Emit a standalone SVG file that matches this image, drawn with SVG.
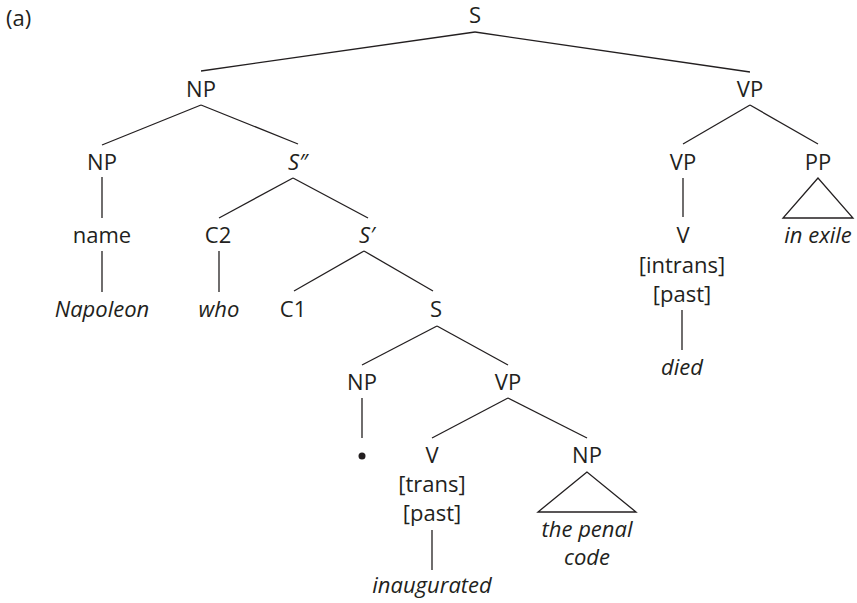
<svg xmlns="http://www.w3.org/2000/svg" width="857" height="603" viewBox="0 0 857 603">
<style>
text{font-family:"Open Sans","Noto Sans","Liberation Sans",sans-serif;font-size:22px;fill:#231f20;text-anchor:middle}
.i{font-style:italic}
.l{text-anchor:start}
.e line,.e polygon{stroke:#231f20;stroke-width:1.3;fill:none}
</style>
<rect width="857" height="603" fill="#fff"/>
<text class="l" x="6" y="26">(a)</text>
<g id="connectors" class="e">
<line x1="475" y1="32" x2="201" y2="71"/>
<line x1="475" y1="32" x2="750" y2="72"/>
<line x1="201" y1="105" x2="102" y2="145"/>
<line x1="201" y1="105" x2="298" y2="144"/>
<line x1="102" y1="177" x2="102" y2="218"/>
<line x1="102" y1="251" x2="102" y2="292"/>
<line x1="293" y1="178" x2="219" y2="218"/>
<line x1="293" y1="178" x2="368" y2="218"/>
<line x1="219" y1="251" x2="219" y2="292"/>
<line x1="364" y1="251" x2="294" y2="291"/>
<line x1="364" y1="251" x2="433" y2="291"/>
<line x1="437" y1="326" x2="362" y2="365"/>
<line x1="437" y1="326" x2="508" y2="365"/>
<line x1="362" y1="398" x2="362" y2="438"/>
<line x1="508" y1="398" x2="432" y2="438"/>
<line x1="508" y1="398" x2="587" y2="438"/>
<line x1="432" y1="530" x2="432" y2="570"/>
<polygon points="587,472 538,512 636,512"/>
<line x1="750" y1="105" x2="683" y2="144"/>
<line x1="750" y1="105" x2="818" y2="144"/>
<line x1="683" y1="178" x2="683" y2="217"/>
<line x1="682" y1="310" x2="682" y2="350"/>
<polygon points="818,178 783,218 853,218"/>
</g>
<g id="n-S"><text x="475" y="23">S</text></g>
<g id="n-NP1"><text x="201" y="97">NP</text></g>
<g id="n-VP1"><text x="750" y="97">VP</text></g>
<g id="n-NP2"><text x="102" y="170">NP</text></g>
<g id="n-S2"><text class="l i" x="288" y="170">S″</text></g>
<g id="n-VP2"><text x="683" y="170">VP</text></g>
<g id="n-PP"><text x="818" y="170">PP</text><text class="i" x="818" y="243">in exile</text></g>
<g id="n-name"><text x="102" y="243">name</text></g>
<g id="n-C2"><text x="218" y="243">C2</text></g>
<g id="n-S1"><text class="l i" x="359" y="243">S′</text></g>
<g id="n-V1"><text x="683" y="243">V</text><text x="682" y="273">[intrans]</text><text x="682" y="302">[past]</text></g>
<g id="n-Napoleon"><text class="i" x="102" y="317">Napoleon</text></g>
<g id="n-who"><text class="i" x="219" y="317">who</text></g>
<g id="n-C1"><text x="293" y="317">C1</text></g>
<g id="n-S3"><text x="436" y="317">S</text></g>
<g id="n-died"><text class="i" x="682" y="375">died</text></g>
<g id="n-NP3"><text x="362" y="390">NP</text></g>
<g id="n-VP3"><text x="508" y="390">VP</text></g>
<g id="n-trace"><circle cx="362" cy="456" r="3.5" fill="#231f20"/></g>
<g id="n-V2"><text x="432" y="463">V</text><text x="432" y="492">[trans]</text><text x="432" y="521">[past]</text></g>
<g id="n-NP4"><text x="587" y="463">NP</text><text class="i" x="587" y="537">the penal</text><text class="i" x="587" y="565">code</text></g>
<g id="n-inaugurated"><text class="i" x="432" y="593">inaugurated</text></g>
</svg>
